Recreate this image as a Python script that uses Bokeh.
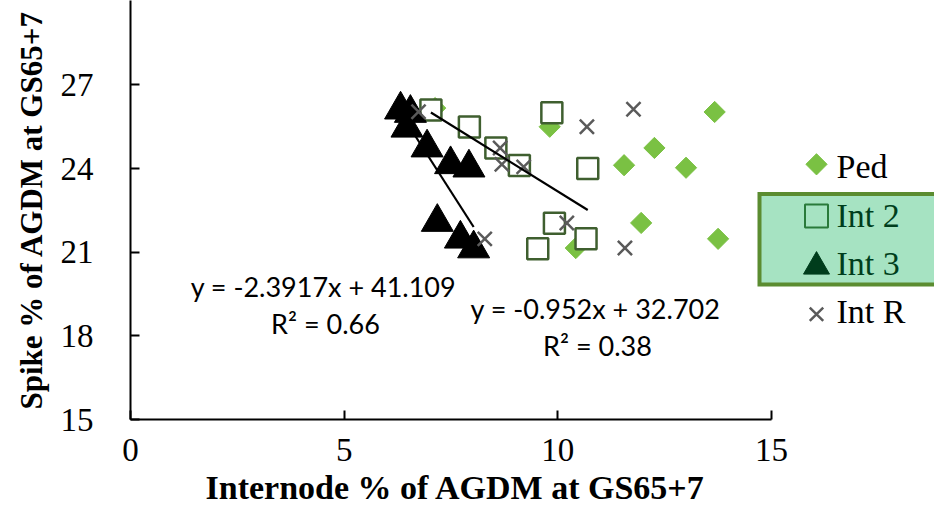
from bokeh.plotting import figure
from bokeh.models import Range1d, FixedTicker, Label, BoxAnnotation, Title
from bokeh.embed import file_html
from bokeh.resources import INLINE

# ---- data ----
ped_x = [7.13, 9.81, 13.67, 12.26, 11.55, 13.00, 11.95, 13.75, 10.42]
ped_y = [26.17, 25.50, 26.03, 24.74, 24.12, 24.03, 22.05, 21.48, 21.15]

int2_x = [7.03, 7.93, 8.55, 9.10, 9.86, 10.70, 9.92, 10.66, 9.53]
int2_y = [26.10, 25.49, 24.74, 24.11, 26.00, 24.00, 22.04, 21.48, 21.12]

int3_x = [6.32, 6.55, 6.47, 6.94, 7.49, 7.92, 7.18, 7.72, 8.03]
int3_y = [26.11, 25.99, 25.46, 24.75, 24.15, 24.03, 22.08, 21.48, 21.13]

intr_x = [6.74, 10.68, 11.77, 8.65, 8.69, 9.20, 10.21, 8.29, 11.57]
intr_y = [26.04, 25.50, 26.13, 24.74, 24.15, 24.06, 22.05, 21.48, 21.15]

fit2 = (-0.952, 32.702, "0.38")
fit3 = (-2.3917, 41.109, "0.66")

x_ticks = [0, 5, 10, 15]
y_ticks = [15, 18, 21, 24, 27]

series_names = ["Ped", "Int 2", "Int 3", "Int R"]
x_title = "Internode % of AGDM at GS65+7"
y_title = "Spike % of AGDM at GS65+7"

# ---- colours ----
C_PED = "#7AC143"
C_INT2 = "#3F5F2F"
C_INT3 = "#000000"
C_INTR = "#5A5A5A"

SERIF = "Liberation Serif"
SANS = "Lato"

# frame geometry (screen px inside the figure) for placing legend/labels
W, H = 934, 509
FL, FR, FT, FB = 130, 934, 0, 422
X0, X1 = 0.0, 15.0 * (FR - FL) / 641.0
Y0, Y1 = 15.0, 15.0 + (FB - FT) / 28.08
OFF = 0  # reference image px -> figure px


def dx(px):
    return X0 + (px - OFF - FL) / (FR - FL) * (X1 - X0)


def dy(py):
    return Y1 - (py - OFF - FT) / (FB - FT) * (Y1 - Y0)


p = figure(width=W, height=H, output_backend="svg", toolbar_location=None,
           x_range=Range1d(X0, X1), y_range=Range1d(Y0, Y1),
           min_border_left=FL, min_border_right=0, min_border_top=0,
           min_border_bottom=H - FB)
p.outline_line_color = None
p.grid.visible = False
p.background_fill_color = "white"
p.border_fill_color = "white"

for ax in (p.xaxis, p.yaxis):
    ax.axis_line_color = "black"
    ax.axis_line_width = 2
    ax.major_tick_line_color = "black"
    ax.major_tick_line_width = 2
    ax.major_tick_in = 9
    ax.major_tick_out = 0
    ax.minor_tick_line_color = None
    ax.major_label_text_font = SERIF
    ax.major_label_text_font_size = "33px"
    ax.major_label_text_color = "black"
    ax.axis_label_text_font = SERIF
    ax.axis_label_text_font_size = "31px"
    ax.axis_label_text_font_style = "bold"
    ax.axis_label_text_color = "black"

p.xaxis.bounds = (0, 15)
p.xaxis.ticker = FixedTicker(ticks=x_ticks)
p.yaxis.ticker = FixedTicker(ticks=y_ticks)
p.yaxis.axis_label = y_title
p.xaxis.major_label_standoff = 19
p.yaxis.major_label_standoff = 37
p.yaxis.axis_label_standoff = 9

# x title under the bounded axis (left-aligned with an offset so it centres on 0..15)
p.add_layout(Title(text=x_title, align="left", offset=75, standoff=7,
                   vertical_align="bottom", text_font=SERIF, text_font_size="34px",
                   text_font_style="bold", text_color="black"), "below")

# ---- series ----
p.scatter(ped_x, ped_y, marker="square", angle=0.785398, size=15,
          fill_color=C_PED, line_color=C_PED)
p.scatter(int2_x, int2_y, marker="square", size=21, fill_color="white",
          line_color=C_INT2, line_width=2.5)
p.scatter(int3_x, int3_y, marker="triangle", size=32, fill_color=C_INT3,
          line_color=C_INT3)
p.scatter(intr_x, intr_y, marker="x", size=20, line_color=C_INTR, line_width=2.5)

# ---- trendlines ----
for xs, (m, b, _) in ((int2_x, fit2), (int3_x, fit3)):
    xa, xb = min(xs), max(xs)
    p.line([xa, xb], [m * xa + b, m * xb + b], line_color="black", line_width=2.2)


def eq_text(m, b):
    return "y = %gx + %g" % (m, b)


lab_font = "27px"
for (m, b, r2), (cx, cy) in ((fit3, (323, 288)), (fit2, (595, 310))):
    p.add_layout(Label(x=dx(cx), y=dy(cy), text=eq_text(m, b), text_align="center",
                       text_baseline="middle", text_font=SANS, text_font_size=lab_font,
                       text_color="black"))
    p.add_layout(Label(x=dx(cx + 2), y=dy(cy + 37), text="R\u00b2 = " + r2,
                       text_align="center", text_baseline="middle", text_font=SANS,
                       text_font_size=lab_font, text_color="black"))

# ---- legend (manual) ----
leg_mx = 816
leg_tx = 836
p.scatter([dx(leg_mx)], [dy(165)], marker="square", angle=0.785398, size=15,
          fill_color=C_PED, line_color=C_PED)
p.scatter([dx(leg_mx)], [dy(217)], marker="square", size=23, fill_color="white",
          line_color=C_INT2, line_width=2)
p.scatter([dx(leg_mx)], [dy(268)], marker="triangle", size=26,
          fill_color=C_INT3, line_color=C_INT3)
p.scatter([dx(leg_mx)], [dy(316)], marker="x", size=19, line_color=C_INTR,
          line_width=2.5)
for name, ry in zip(series_names, [167, 217, 265, 313]):
    p.add_layout(Label(x=dx(leg_tx), y=dy(ry), text=name, text_align="left",
                       text_baseline="middle", text_font=SERIF, text_font_size="34px",
                       text_color="black"))

# highlight over the Int 2 / Int 3 entries
bx_l, bx_r, bx_t, bx_b = dx(759), dx(990), dy(195), dy(286)
p.add_layout(BoxAnnotation(left=bx_l, right=bx_r, top=bx_t, bottom=bx_b,
                           fill_color="#00B050", fill_alpha=0.35, line_color=None))
border = p.line([bx_r, bx_l, bx_l, bx_r], [bx_t, bx_t, bx_b, bx_b],
                line_color="#5B8C30", line_width=4, line_join="miter")
border.level = "overlay"

open("out.html", "w").write(file_html(p, INLINE))
